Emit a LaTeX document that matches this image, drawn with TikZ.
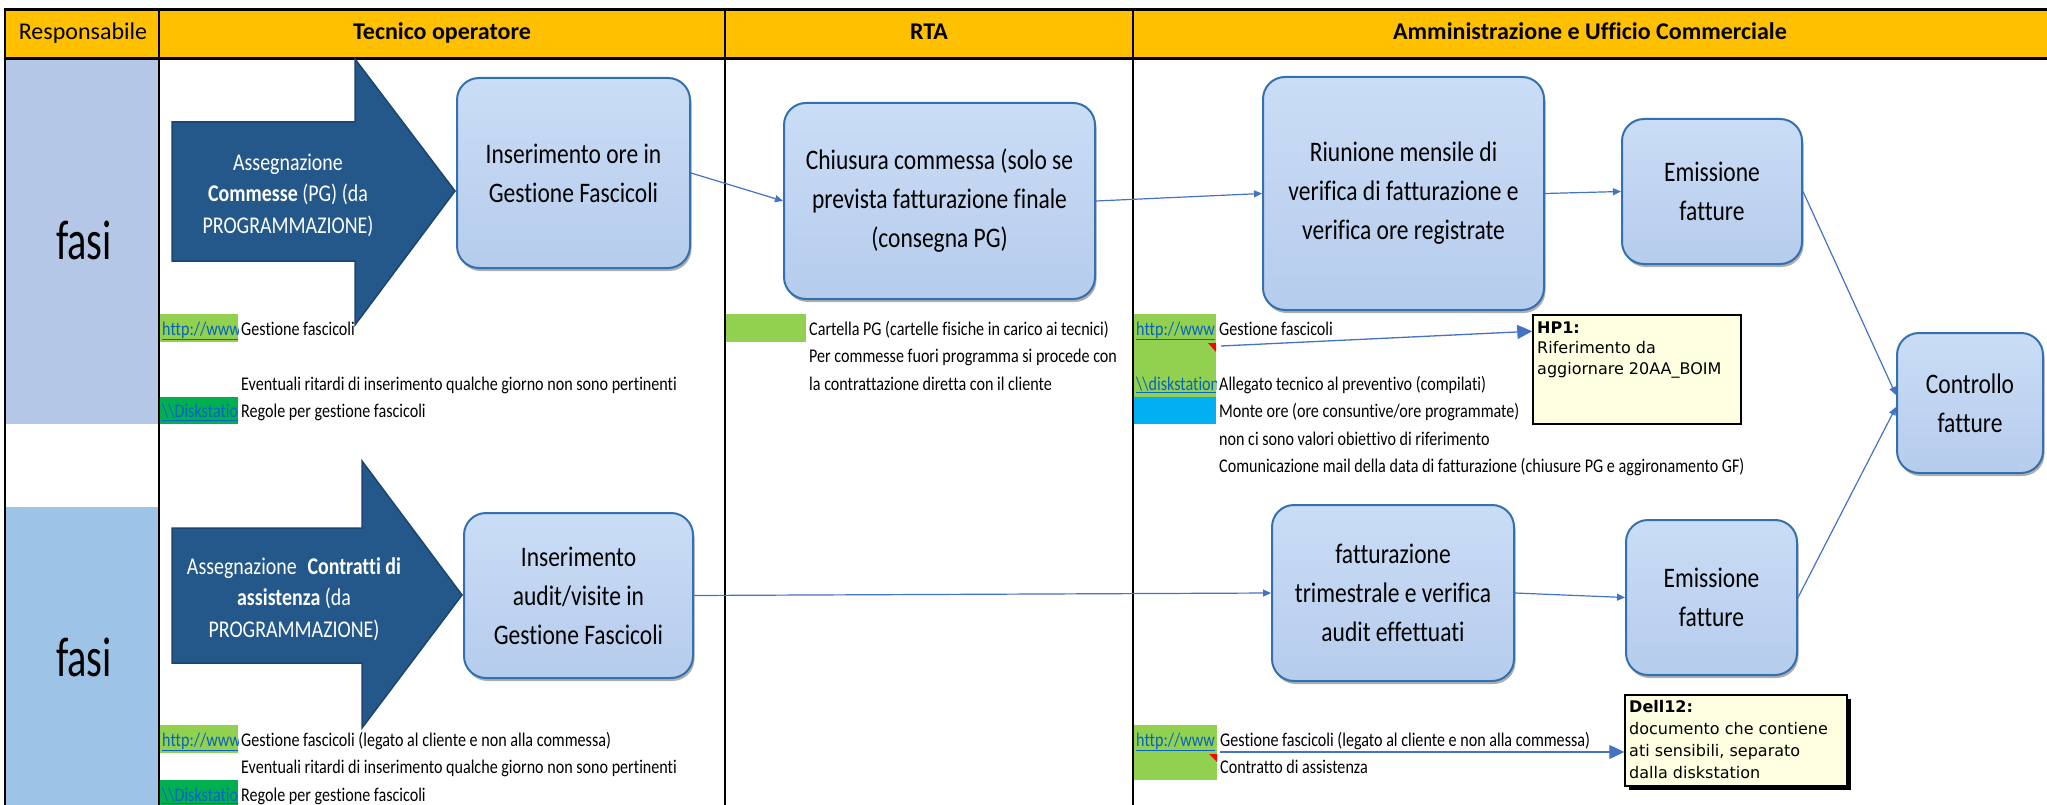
\documentclass[tikz,border=0pt]{standalone}
\usepackage{fontspec}
\setmainfont{Carlito}[FakeStretch=0.83,Ligatures=NoCommon]
\newfontfamily\headfont{Carlito}[Ligatures=NoCommon]
\newfontfamily\bigfont{Carlito}[FakeStretch=0.72,Ligatures=NoCommon]
\newfontfamily\notefont{DejaVu Sans}
\usetikzlibrary{arrows.meta,calc,shadows}

\definecolor{hdryellow}{HTML}{FFC000}
\definecolor{respA}{HTML}{B4C7E7}
\definecolor{respB}{HTML}{9DC3E6}
\definecolor{boxtop}{HTML}{CADDF6}
\definecolor{boxbot}{HTML}{B6CCEC}
\definecolor{boxline}{HTML}{3370B0}
\definecolor{arrowfill}{HTML}{24588B}
\definecolor{arrowedge}{HTML}{1B4470}
\definecolor{flowblue}{HTML}{4472C4}
\definecolor{lgreen}{HTML}{92D050}
\definecolor{dgreen}{HTML}{00B050}
\definecolor{cyanfill}{HTML}{00B0F0}
\definecolor{linkblue}{HTML}{0563C1}
\definecolor{memofill}{HTML}{FFFFE1}

\tikzset{
  procbox/.style={draw=boxline, line width=2pt, top color=boxtop, bottom color=boxbot,
    rounded corners=22pt, align=center, inner sep=4pt,
    drop shadow={shadow xshift=1.5pt, shadow yshift=-3pt, opacity=0.45, fill=black!70},
    font=\fontsize{28.3}{39}\selectfont},
  flow/.style={draw=flowblue, line width=1.2pt, -{Triangle[length=8pt,width=7pt]}},
  notearrow/.style={draw=flowblue, line width=1.3pt, -{Triangle[length=15pt,width=14pt]}},
  celltxt/.style={anchor=base west, inner sep=0pt, font=\fontsize{19.4}{22}\selectfont},
  linktxt/.style={celltxt, text=linkblue},
  hdrtxt/.style={anchor=base, inner sep=0pt, font=\headfont\bfseries\fontsize{24}{28}\selectfont},
  bigarrow/.style={fill=arrowfill, draw=arrowedge, line width=1.5pt},
  arrtxt/.style={text=white, align=center, inner sep=0pt, font=\fontsize{24}{31.5}\selectfont},
  memo/.style={draw=black, line width=1.5pt, fill=memofill},
  memotxt/.style={anchor=base west, inner sep=0pt, font=\notefont\fontsize{16}{21}\selectfont},
  fasitxt/.style={anchor=base, inner sep=0pt, font=\bigfont\fontsize{56}{60}\selectfont},
}

\begin{document}
\begin{tikzpicture}[x=1pt,y=-1pt]
\useasboundingbox (0,0) rectangle (2047,805);

% header band
\fill[hdryellow] (5,10) rectangle (2047,59);
\node[hdrtxt, font=\headfont\fontsize{24}{28}\selectfont] (hresp) at (83,40) {Responsabile};
\node[hdrtxt] (htec) at (442,40) {Tecnico operatore};
\node[hdrtxt] (hrta) at (929,40) {RTA};
\node[hdrtxt] (hamm) at (1590,40) {Amministrazione e Ufficio Commerciale};

% responsible column cells
\fill[respA] (5,59) rectangle (159,424);
\fill[respB] (5,506.5) rectangle (159,805);
\node[fasitxt] (fasi1) at (84,259) {fasi};
\node[fasitxt] (fasi2) at (84,676) {fasi};

% ---- upper row: cell contents ----
\fill[lgreen] (159.8,314) rectangle (238,341.5);
\fill[dgreen] (159.8,396.5) rectangle (238,424);
\begin{scope}
  \clip (159.8,314) rectangle (238,341.5);
  \node[linktxt] (lkA) at (162,335) {\underline{http://www}};
\end{scope}
\begin{scope}
  \clip (159.8,396.5) rectangle (238,424);
  \node[linktxt] (lkB) at (162,417.5) {\underline{\textbackslash\textbackslash Diskstation}};
\end{scope}
\node[celltxt] (tA1) at (241,335) {Gestione fascicoli};
\node[celltxt] (tA2) at (241,390) {Eventuali ritardi di inserimento qualche giorno non sono pertinenti};
\node[celltxt] (tA3) at (241,417.5) {Regole per gestione fascicoli};

\fill[lgreen] (726,314) rectangle (806,341.5);
\node[celltxt] (tR1) at (809,335) {Cartella PG (cartelle fisiche in carico ai tecnici)};
\node[celltxt] (tR2) at (809,362.5) {Per commesse fuori programma si procede con};
\node[celltxt] (tR3) at (809,390) {la contrattazione diretta con il cliente};

\fill[lgreen] (1134,314) rectangle (1216,396.5);
\fill[cyanfill] (1134,396.5) rectangle (1216,424);
\begin{scope}
  \clip (1134,314) rectangle (1216,424);
  \node[linktxt] (lkC) at (1136,335) {\underline{http://www}};
  \node[linktxt] (lkD) at (1136,390) {\underline{\textbackslash\textbackslash diskstation}};
\end{scope}
\fill[red] (1208,343) -- (1216,343) -- (1216,352) -- cycle;
\coordinate (hpfrom) at (1221,346);
\node[celltxt] (tM1) at (1219,335) {Gestione fascicoli};
\node[celltxt] (tM2) at (1219,390) {Allegato tecnico al preventivo (compilati)};
\node[celltxt] (tM3) at (1219,417.5) {Monte ore (ore consuntive/ore programmate)};
\node[celltxt] (tM4) at (1219,445) {non ci sono valori obiettivo di riferimento};
\node[celltxt] (tM5) at (1219,472.5) {Comunicazione mail della data di fatturazione (chiusure PG e aggironamento GF)};

% comment HP1
\node[memo, minimum width=208pt, minimum height=109pt, inner sep=0pt] (hp1) at (1637,369.5) {};
\node[memotxt, font=\notefont\bfseries\fontsize{16}{21}\selectfont] (hp1a) at (1537,333) {HP1:};
\node[memotxt] (hp1b) at (1537,353) {Riferimento da};
\node[memotxt] (hp1c) at (1537,374) {aggiornare 20AA\_BOIM};
\draw[notearrow] (hpfrom) -- ($(hp1.north west)+(0,17)$);

% ---- lower row: cell contents ----
\fill[lgreen] (159.8,725) rectangle (238,752.5);
\fill[dgreen] (159.8,780) rectangle (238,807.5);
\begin{scope}
  \clip (159.8,725) rectangle (238,752.5);
  \node[linktxt] (lkE) at (162,746) {\underline{http://www}};
\end{scope}
\begin{scope}
  \clip (159.8,780) rectangle (238,807.5);
  \node[linktxt] (lkF) at (162,801) {\underline{\textbackslash\textbackslash Diskstation}};
\end{scope}
\node[celltxt] (tB1) at (241,746) {Gestione fascicoli (legato al cliente e non alla commessa)};
\node[celltxt] (tB2) at (241,773.5) {Eventuali ritardi di inserimento qualche giorno non sono pertinenti};
\node[celltxt] (tB3) at (241,801) {Regole per gestione fascicoli};

\fill[lgreen] (1134,725) rectangle (1217,780);
\begin{scope}
  \clip (1134,725) rectangle (1217,780);
  \node[linktxt] (lkG) at (1136,746) {\underline{http://www}};
\end{scope}
\fill[red] (1209,754) -- (1217,754) -- (1217,762) -- cycle;
\coordinate (dlfrom) at (1220,752);
\node[celltxt] (tN1) at (1220,746) {Gestione fascicoli (legato al cliente e non alla commessa)};
\node[celltxt] (tN2) at (1220,773.5) {Contratto di assistenza};

% comment Dell12 with its shadow
\fill[black] (1629,699) rectangle (1851,790);
\node[memo, minimum width=222pt, minimum height=91pt, inner sep=0pt] (dell) at (1736,740.5) {};
\begin{scope}
  \clip (1626,696) rectangle (1846,785);
  \node[memotxt, font=\notefont\bfseries\fontsize{16}{21}\selectfont] (dl1) at (1629,712) {Dell12:};
  \node[memotxt] (dl2) at (1629,734) {documento che contiene};
  \node[memotxt] (dl3) at (1629,756) {ati sensibili, separato};
  \node[memotxt] (dl4) at (1629,778) {dalla diskstation};
\end{scope}
\draw[notearrow] (dlfrom) -- ($(dell.west)+(0,11.5)$);

% ---- grid lines ----
\draw[line width=1.5pt] (5,10) -- (5,805);
\draw[line width=1.5pt] (159,10) -- (159,805);
\draw[line width=1.5pt] (725,10) -- (725,805);
\draw[line width=1.5pt] (1133,10) -- (1133,805);
\draw[line width=3pt] (4,10) -- (2047,10);
\draw[line width=3pt] (4,59) -- (2047,59);

% ---- block arrows ----
\path[bigarrow] (172,122) -- (355,122) -- (355,59) -- (455,191) -- (355,325) -- (355,261) -- (172,261) -- cycle;
\node[arrtxt] (asg1) at (288,195) {Assegnazione\\\textbf{Commesse} (PG) (da\\PROGRAMMAZIONE)};
\path[bigarrow] (172,528) -- (362,528) -- (362,461) -- (462,595) -- (362,728) -- (362,663) -- (172,663) -- cycle;
\node[arrtxt] (asg2) at (294,599) {Assegnazione\hspace{0.45em}\textbf{Contratti di}\\\textbf{assistenza} (da\\PROGRAMMAZIONE)};

% ---- process boxes ----
\node[procbox, minimum width=233pt, minimum height=190pt] (b1) at (573.5,173) {Inserimento ore in\\Gestione Fascicoli};
\node[procbox, minimum width=311pt, minimum height=196pt] (b2) at (939.5,201) {Chiusura commessa (solo se\\prevista fatturazione finale\\(consegna PG)};
\node[procbox, minimum width=281pt, minimum height=233pt] (b3) at (1403.5,193.5) {Riunione mensile di\\verifica di fatturazione e\\verifica ore registrate};
\node[procbox, minimum width=180pt, minimum height=145pt] (b4) at (1712,191.5) {Emissione\\fatture};
\node[procbox, minimum width=146pt, minimum height=140pt] (b5) at (1970,403) {Controllo\\fatture};
\node[procbox, minimum width=229pt, minimum height=165pt] (b6) at (578.5,595.5) {Inserimento\\audit/visite in\\Gestione Fascicoli};
\node[procbox, minimum width=242pt, minimum height=176pt] (b7) at (1393,593) {fatturazione\\trimestrale e verifica\\audit effettuati};
\node[procbox, minimum width=171pt, minimum height=155pt] (b8) at (1711.5,597.5) {Emissione\\fatture};

% ---- connectors ----
\draw[flow] (b1.east) -- (b2.west);
\draw[flow] (b2.east) -- (b3.west);
\draw[flow] (b3.east) -- (b4.west);
\draw[flow] (b4.east) -- ($(b5.west)+(0,-8)$);
\draw[flow] (b6.east) -- (b7.west);
\draw[flow] (b7.east) -- (b8.west);
\draw[flow] (b8.east) -- ($(b5.west)+(0,4)$);
\end{tikzpicture}
\end{document}
